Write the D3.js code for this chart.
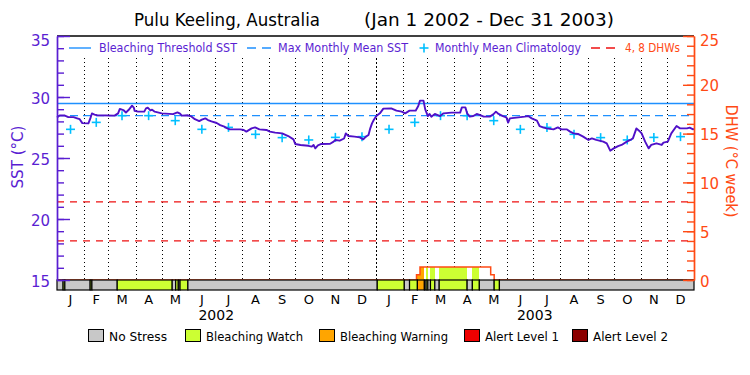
<!DOCTYPE html>
<html><head><meta charset="utf-8">
<script src="https://cdn.jsdelivr.net/npm/d3@7"></script>
<style>
body{margin:0;background:#fff}
svg{display:block}
text{font-family:"DejaVu Sans","Liberation Sans",sans-serif}
</style>
</head><body>
<svg id="chart" width="750" height="375"></svg>
<script>
// ---------------- DATA ----------------
const titleLeft = "Pulu Keeling, Australia";
const titleRight = "(Jan 1 2002 - Dec 31 2003)";
const monthLabels = ["J","F","M","A","M","J","J","A","S","O","N","D"];
const yearLabels = ["2002","2003"];
const years = [2002, 2003];
const sstTicks = [15,20,25,30,35];
const dhwTicks = [0,5,10,15,20,25];
const bleachingThreshold = 29.47;
const maxMonthlyMean = 28.47;
const dhwLevels = [4, 8];
// monthly mean climatology, Jan..Dec
const climatology = [27.35,27.92,28.47,28.47,28.06,27.35,27.51,26.94,26.67,26.48,26.69,26.75];
// SST: day offset from Jan 1 2002, value in deg C
const sstDays = [0,3,9,13,19,23,26,29,36,38,40,43,46,66,70,72,76,79,82,86,88,89,93,100,102,104,107,109,112,120,133,138,141,143,150,154,158,163,166,170,173,177,183,187,191,194,198,210,214,217,223,227,232,240,244,250,258,265,271,273,279,288,292,294,296,299,303,313,317,319,324,329,331,334,341,347,351,354,357,359,361,363,366,370,374,
383,389,395,399,404,411,414,416,420,422,425,427,429,433,439,443,452,462,464,468,470,473,477,481,485,489,496,500,503,506,511,515,517,519,529,536,540,544,550,553,557,561,569,574,578,584,588,592,597,603,609,613,618,626,630,634,638,643,647,653,657,660,664,667,670,674,678,681,687,693,695,700,704,710,714,722,725,729,730];
const sstValues = [28.31,28.48,28.48,28.35,28.35,28.25,28.18,27.86,27.84,28.2,28.65,28.55,28.5,28.47,28.66,29.02,28.93,28.73,28.93,29.29,29.13,28.86,28.8,28.8,29.07,29.13,28.9,28.96,28.8,28.66,28.6,28.74,28.63,28.47,28.5,28.41,28.18,28.02,28.14,28.25,28.11,28.0,27.87,27.7,27.6,27.47,27.35,27.35,27.3,27.16,27.43,27.51,27.35,27.3,27.16,27.08,27.02,26.8,26.53,26.15,26.07,26.0,25.93,26.07,25.79,26.04,26.15,26.17,26.34,26.48,26.42,26.6,27.02,26.8,26.75,26.69,26.53,26.75,26.89,27.43,27.84,28.11,28.45,28.66,29.05,
29.07,28.88,28.8,28.66,28.88,28.88,29.26,29.7,29.7,28.99,28.44,28.61,28.39,28.61,28.44,28.66,28.72,28.72,29.15,29.15,28.66,28.39,28.44,28.61,28.52,28.39,28.39,28.58,28.8,28.61,28.44,28.33,27.9,28.25,28.33,28.39,28.44,28.25,28.06,27.62,27.51,27.43,27.35,27.51,27.35,27.35,27.16,27.02,26.97,26.75,26.48,26.61,26.48,26.34,26.2,25.6,25.79,25.98,26.07,26.34,26.48,26.61,27.43,27.24,27.02,26.34,25.79,26.07,26.2,26.07,26.26,26.34,27.02,27.62,27.43,27.43,27.49,27.35,27.4];
// Degree heating weeks (step values), day offsets from Jan 1 2002
const dhwDays = [0,412,416,497,501,730];
const dhwValues = [0,0.55,1.33,0.55,0,0];
// Bleaching alert stress level segments: start day and level (0..4)
const stressStart = [0,7,9,38,40,69,132,136,139,141,150,367,398,404,413,421,423,425,428,433,438,470,476,484,501,507];
const stressLevel = [0,1,0,1,0,1,0,1,0,1,0,1,0,1,2,0,1,0,1,0,1,0,1,0,1,0];
const stressNames = ["No Stress","Bleaching Watch","Bleaching Warning","Alert Level 1","Alert Level 2"];

// ---------------- STYLE ----------------
const stressColors = ["#C8C8C8","#CCFF33","#FFA500","#EE0000","#8B0000"];
const cSST = "#5A1ED2", cLine = "#5010C8", cDHW = "#FF4A14", cThr = "#1E90FF", cClim = "#00BFFF", cDHWdash = "#EE1111";

const svg = d3.select("#chart");
const L = 57, R = 694, T = 36, B = 280, SB = 290;
const t0 = Date.UTC(2002,0,1), t1 = Date.UTC(2004,0,1);
const dayToDate = d => new Date(t0 + d*864e5);
const x = d3.scaleUtc().domain([t0, t1]).range([L, R]);
const ySST = d3.scaleLinear().domain([15,35]).range([B, T]);
const yDHW = d3.scaleLinear().domain([0,25]).range([B, T]);

// title
svg.append("text").attr("x",134).attr("y",26).attr("font-size",17).attr("textLength",186).attr("lengthAdjust","spacingAndGlyphs").text(titleLeft);
svg.append("text").attr("x",364).attr("y",26).attr("font-size",17).attr("textLength",250).attr("lengthAdjust","spacingAndGlyphs").text(titleRight);

// month dotted lines (below the in-plot legend row)
const months = d3.utcMonth.range(Date.UTC(2002,1,1), t1);
svg.append("g").selectAll("line").data(months).join("line")
  .attr("x1", d=>Math.round(x(d))+0.5).attr("x2", d=>Math.round(x(d))+0.5)
  .attr("y1", 58).attr("y2", B)
  .attr("stroke","#000").attr("stroke-width",1)
  .attr("stroke-dasharray", d => d.getUTCMonth()===0 ? "2,2" : "1,3");

// DHW dashed levels
svg.append("g").selectAll("line").data(dhwLevels).join("line")
  .attr("x1",L).attr("x2",R).attr("y1",d=>yDHW(d)).attr("y2",d=>yDHW(d))
  .attr("stroke",cDHWdash).attr("stroke-width",1.2).attr("stroke-dasharray","7,6");

// threshold & MMM
svg.append("line").attr("x1",L).attr("x2",R).attr("y1",ySST(bleachingThreshold)).attr("y2",ySST(bleachingThreshold))
  .attr("stroke",cThr).attr("stroke-width",1.4);
svg.append("line").attr("x1",L).attr("x2",R).attr("y1",ySST(maxMonthlyMean)).attr("y2",ySST(maxMonthlyMean))
  .attr("stroke",cThr).attr("stroke-width",1.4).attr("stroke-dasharray","8,5");

// climatology crosses
const climPts = [];
years.forEach(yr => climatology.forEach((v,m) => {
  const a = Date.UTC(yr,m,1), b = Date.UTC(yr,m+1,1);
  climPts.push({t:new Date((a+b)/2), v});
}));
const cross = svg.append("g").attr("stroke",cClim).attr("stroke-width",1.6);
climPts.forEach(p => {
  const cx = x(p.t), cy = ySST(p.v);
  cross.append("line").attr("x1",cx-4.5).attr("x2",cx+4.5).attr("y1",cy).attr("y2",cy);
  cross.append("line").attr("x1",cx).attr("x2",cx).attr("y1",cy-4.5).attr("y2",cy+4.5);
});

// SST line
const sst = sstDays.map((d,i)=>({t:dayToDate(d), v:sstValues[i]}));
svg.append("path").datum(sst)
  .attr("d", d3.line().x(d=>x(d.t)).y(d=>ySST(d.v)))
  .attr("fill","none").attr("stroke",cLine).attr("stroke-width",1.9).attr("stroke-linejoin","round");

// helpers
function levelAt(day){ let l = 0; for(let i=0;i<stressStart.length;i++){ if(stressStart[i]<=day) l = stressLevel[i]; } return l; }
function dhwAt(day){ let v = 0; for(let i=0;i<dhwDays.length;i++){ if(dhwDays[i]<=day) v = dhwValues[i]; } return v; }

// DHW filled area coloured by stress level
const dayIdx = d3.range(0,730);
svg.append("g").attr("shape-rendering","crispEdges").selectAll("rect").data(dayIdx.filter(d=>dhwAt(d)>0)).join("rect")
  .attr("x", d=>x(dayToDate(d))).attr("width", d=>x(dayToDate(d+1))-x(dayToDate(d))+0.3)
  .attr("y", d=>yDHW(dhwAt(d))).attr("height", d=>B-yDHW(dhwAt(d)))
  .attr("fill", d=>{const l=levelAt(d); return l===0 ? "#fff" : stressColors[l];});
const dhwPts = dhwDays.map((d,i)=>({t:dayToDate(d), v:dhwValues[i]}));
svg.append("path").datum(dhwPts)
  .attr("d", d3.line().curve(d3.curveStepAfter).x(d=>x(d.t)).y(d=>yDHW(d.v)))
  .attr("fill","none").attr("stroke",cDHW).attr("stroke-width",1.5);

// stress strip
const segs = stressStart.map((s,i)=>({s, e: i<stressStart.length-1 ? stressStart[i+1] : 730, l: stressLevel[i]}));
svg.append("g").selectAll("rect").data(segs).join("rect")
  .attr("x", d=>x(dayToDate(d.s))).attr("width", d=>x(dayToDate(d.e))-x(dayToDate(d.s)))
  .attr("y", B).attr("height", SB-B)
  .attr("fill", d=>stressColors[d.l]).attr("stroke","#000").attr("stroke-width",1.2);

// frame top
svg.append("line").attr("x1",L).attr("x2",R).attr("y1",T).attr("y2",T).attr("stroke","#000").attr("stroke-width",1.5);

// left axis
const gl = svg.append("g").attr("transform",`translate(${L},0)`);
gl.call(d3.axisLeft(ySST).tickValues(d3.range(15,36)).tickSize(-7).tickSizeOuter(0).tickFormat(""));
gl.call(g=>g.selectAll("path,line").attr("stroke",cSST).attr("stroke-width",1.4));
const gl2 = svg.append("g").attr("transform",`translate(${L},0)`);
gl2.call(d3.axisLeft(ySST).tickValues(sstTicks).tickSize(-13).tickSizeOuter(0).tickPadding(7).tickFormat(d3.format("d")));
gl2.call(g=>{
  g.select(".domain").attr("stroke",cSST).attr("stroke-width",1.4);
  g.selectAll("line").attr("stroke",cSST).attr("stroke-width",1.4);
  g.selectAll("text").attr("fill",cSST).attr("font-size",15).attr("font-family","DejaVu Sans")
    .attr("dy", d => d===35 ? "0.65em" : "0.4em");
});

// right axis
const gr = svg.append("g").attr("transform",`translate(${R},0)`);
gr.call(d3.axisRight(yDHW).tickValues(d3.range(0,26)).tickSize(-7).tickSizeOuter(0).tickFormat(""));
gr.call(g=>g.selectAll("path,line").attr("stroke",cDHW).attr("stroke-width",1.4));
const gr2 = svg.append("g").attr("transform",`translate(${R},0)`);
gr2.call(d3.axisRight(yDHW).tickValues(dhwTicks).tickSize(-11).tickSizeOuter(0).tickPadding(6).tickFormat(d3.format("d")));
gr2.call(g=>{
  g.select(".domain").attr("stroke",cDHW).attr("stroke-width",1.4);
  g.selectAll("line").attr("stroke",cDHW).attr("stroke-width",1.4);
  g.selectAll("text").attr("fill",cDHW).attr("font-size",15).attr("font-family","DejaVu Sans")
    .attr("dy", d => d===25 ? "0.65em" : "0.4em");
});

// axis titles
svg.append("text").attr("transform","translate(17,157) rotate(-90)").attr("text-anchor","middle").attr("dominant-baseline","central")
  .attr("font-size",16).attr("fill",cSST).attr("textLength",63).attr("lengthAdjust","spacingAndGlyphs").text("SST (°C)");
svg.append("text").attr("transform","translate(731,161) rotate(90)").attr("text-anchor","middle").attr("dominant-baseline","central")
  .attr("font-size",16).attr("fill",cDHW).attr("textLength",113).attr("lengthAdjust","spacingAndGlyphs").text("DHW (°C week)");

// month labels
const mids = [];
years.forEach(yr => monthLabels.forEach((m,i)=>{
  const a = Date.UTC(yr,i,1), b = Date.UTC(yr,i+1,1);
  mids.push({t:new Date((a+b)/2), m});
}));
svg.append("g").selectAll("text").data(mids).join("text")
  .attr("x", d=>x(d.t)).attr("y",304).attr("text-anchor","middle").attr("font-size",13).attr("fill","#000").text(d=>d.m);
svg.append("g").selectAll("text").data(years).join("text")
  .attr("x", (d)=>x(new Date((Date.UTC(d,0,1)+Date.UTC(d+1,0,1))/2))).attr("y",320).attr("text-anchor","middle")
  .attr("font-size",14).attr("fill","#000").text((d,i)=>yearLabels[i]);

// top legend
const lg = svg.append("g");
lg.append("line").attr("x1",69).attr("x2",91).attr("y1",48).attr("y2",48).attr("stroke",cThr).attr("stroke-width",1.4);
lg.append("text").attr("x",99).attr("y",52).attr("font-size",11.5).attr("fill",cSST).attr("textLength",138).attr("lengthAdjust","spacingAndGlyphs").text("Bleaching Threshold SST");
lg.append("line").attr("x1",247).attr("x2",272).attr("y1",48).attr("y2",48).attr("stroke",cThr).attr("stroke-width",1.4).attr("stroke-dasharray","9,6");
lg.append("text").attr("x",278).attr("y",52).attr("font-size",11.5).attr("fill",cSST).attr("textLength",130).attr("lengthAdjust","spacingAndGlyphs").text("Max Monthly Mean SST");
lg.append("line").attr("x1",419.5).attr("x2",428.5).attr("y1",48).attr("y2",48).attr("stroke",cClim).attr("stroke-width",1.6);
lg.append("line").attr("x1",424).attr("x2",424).attr("y1",43.5).attr("y2",52.5).attr("stroke",cClim).attr("stroke-width",1.6);
lg.append("text").attr("x",435).attr("y",52).attr("font-size",11.5).attr("fill",cSST).attr("textLength",146).attr("lengthAdjust","spacingAndGlyphs").text("Monthly Mean Climatology");
lg.append("line").attr("x1",591).attr("x2",616).attr("y1",48).attr("y2",48).attr("stroke",cDHWdash).attr("stroke-width",1.4).attr("stroke-dasharray","9,6");
lg.append("text").attr("x",625).attr("y",52).attr("font-size",11.5).attr("fill",cDHW).attr("textLength",55).attr("lengthAdjust","spacingAndGlyphs").text("4, 8 DHWs");

// bottom legend
const boxX = [88,185,319,464,572];
const txtLen = [58,97,108,74,75];
const bl = svg.append("g");
stressNames.forEach((n,i)=>{
  bl.append("rect").attr("x",boxX[i]+0.5).attr("y",329.5).attr("width",15).attr("height",12).attr("fill",stressColors[i]).attr("stroke","#000").attr("stroke-width",1);
  bl.append("text").attr("x",boxX[i]+21).attr("y",341).attr("font-size",12).attr("fill","#000").attr("textLength",txtLen[i]).attr("lengthAdjust","spacingAndGlyphs").text(n);
});
</script>
</body></html>
